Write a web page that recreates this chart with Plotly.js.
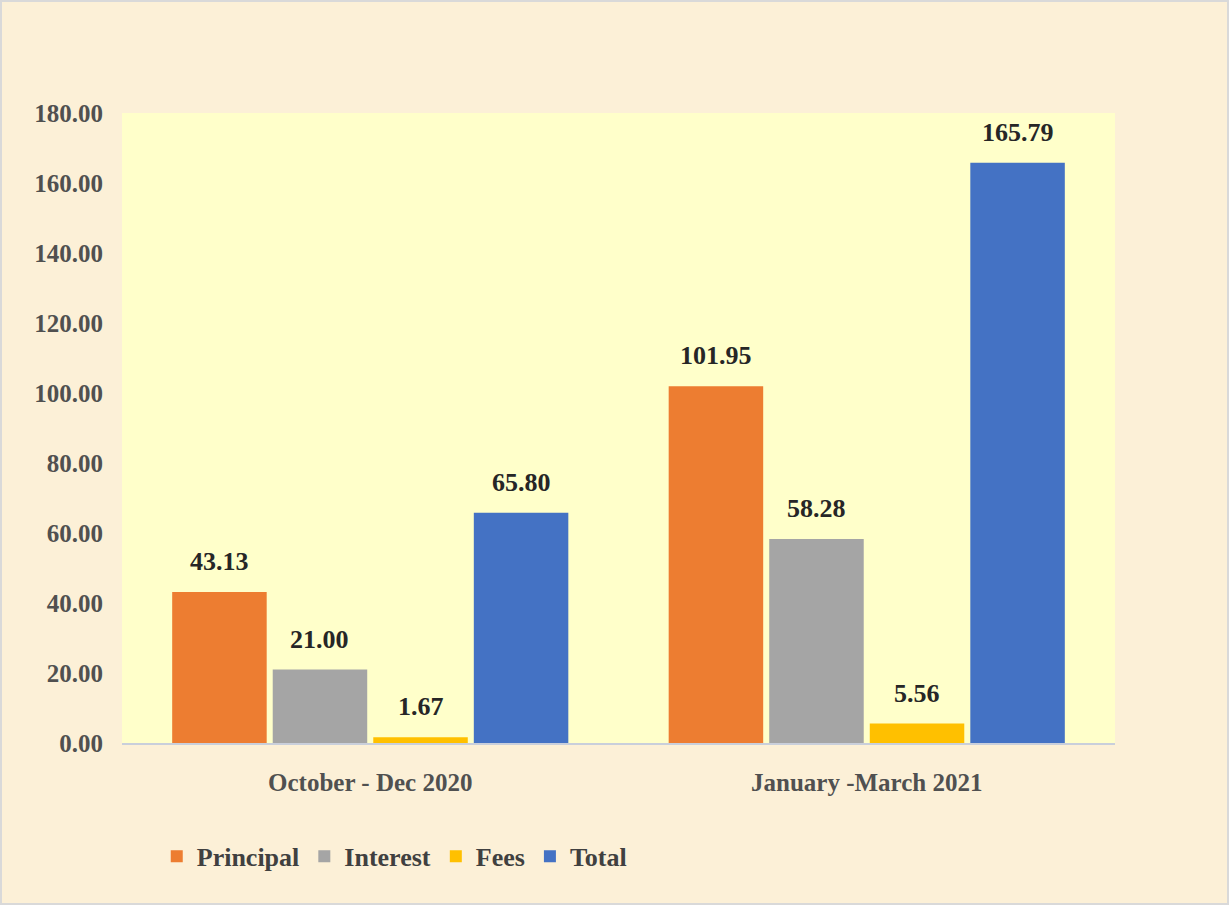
<!DOCTYPE html>
<html><head><meta charset="utf-8">
<script src="https://cdn.plot.ly/plotly-3.0.1.min.js"></script>
<style>
html,body{margin:0;padding:0;background:#fff;}
#chart{width:1225px;height:901px;border:2px solid #d9d9d9;}
</style></head>
<body><div id="chart"></div>
<script>
const categories = ["October - Dec 2020", "January -March 2021"];
const principal = [43.13, 101.95];
const interest = [21.00, 58.28];
const fees = [1.67, 5.56];
const total = [65.80, 165.79];
const seriesNames = ["Principal", "Interest", "Fees", "Total"];
const colors = ["#ED7D31", "#A5A5A5", "#FFC000", "#4472C4"];
const yTicks = [0,20,40,60,80,100,120,140,160,180];

const font = "Liberation Serif, Times New Roman, serif";
const series = [principal, interest, fees, total];
const bargap = 0.19;
const data = series.map((vals, i) => ({
  type: "bar",
  name: seriesNames[i],
  x: categories,
  y: vals,
  marker: {color: colors[i]},
  hoverinfo: "skip"
}));

// value labels placed via the library's own axes (category index + group offset)
const slot = (1 - bargap) / series.length;
const annotations = [];
series.forEach((vals, i) => {
  vals.forEach((v, j) => {
    annotations.push({
      x: j + (i - (series.length - 1) / 2) * slot,
      y: v, xref: "x", yref: "y",
      text: v.toFixed(2), showarrow: false,
      yanchor: "bottom", yshift: 14,
      font: {family: font, size: 26, color: "#262626", weight: "bold"}
    });
  });
});

const layout = {
  width: 1225, height: 901,
  paper_bgcolor: "#FCF0D7",
  plot_bgcolor: "#FFFFCA",
  margin: {l: 120, r: 112, t: 111, b: 160},
  barmode: "group",
  bargap: bargap,
  bargroupgap: 0.06,
  showlegend: true,
  annotations: annotations,
  legend: {orientation: "h", x: 0.035, xanchor: "left", y: -0.18, yanchor: "middle",
           font: {family: font, size: 26, color: "#404040", weight: "bold"},
           itemwidth: 30, traceorder: "normal", bgcolor: "rgba(0,0,0,0)"},
  xaxis: {tickfont: {family: font, size: 25, color: "#505050", weight: "bold"},
          showline: true, linecolor: "#C9CFDB", linewidth: 1.5, ticks: "", showgrid: false,
          ticklabelstandoff: 16},
  yaxis: {range: [0, 180], tickvals: yTicks, tickformat: ".2f", showgrid: false, zeroline: false,
          showline: false, ticks: "", ticklen: 0, ticklabelstandoff: 18,
          tickfont: {family: font, size: 25, color: "#505050", weight: "bold"}}
};
Plotly.newPlot("chart", data, layout, {displayModeBar: false, staticPlot: true});
</script></body></html>
